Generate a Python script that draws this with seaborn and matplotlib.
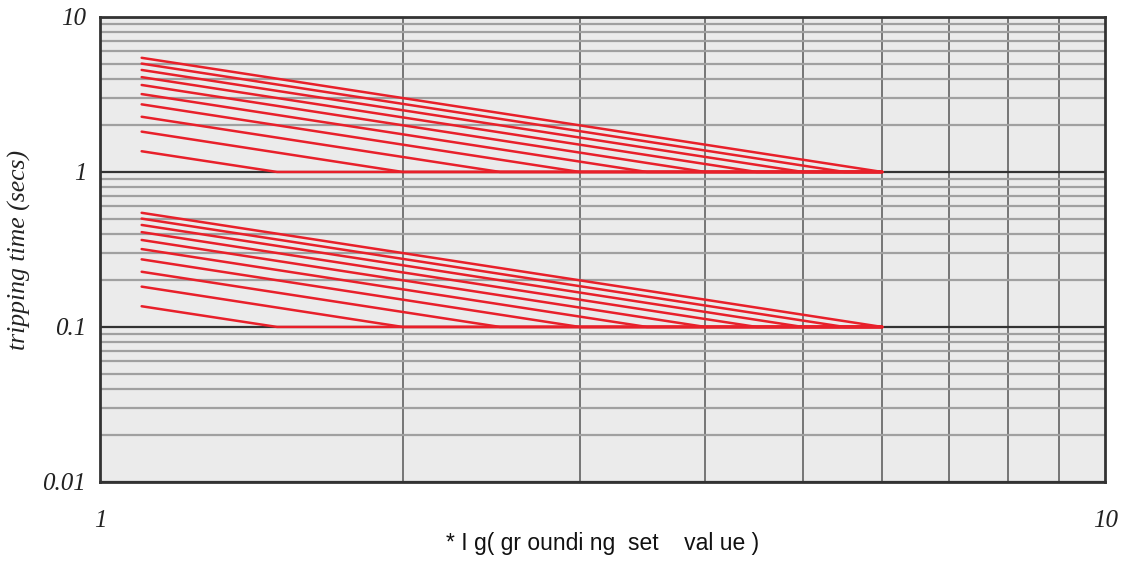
import numpy as np
import pandas as pd
import matplotlib
matplotlib.use("Agg")
import matplotlib.pyplot as plt
import seaborn as sns
from matplotlib.ticker import FixedLocator, NullFormatter

sns.set_theme(style="white")

# curve settings (multiples of the grounding set value)
k_values = [1.5, 2.0, 2.5, 3.0, 3.5, 4.0, 4.5, 5.0, 5.5, 6.0]
start_current = 1.1
end_current = 6.0
# tripping time at the start current, upper family (secs)
start_times_upper = [1.36, 1.82, 2.27, 2.73, 3.18, 3.64, 4.09, 4.55, 5.00, 5.45]
# lower family (secs)
start_times_lower = [0.136, 0.182, 0.227, 0.273, 0.318, 0.364, 0.409, 0.455, 0.500, 0.545]
flat_upper = 1.0
flat_lower = 0.1

rows = []
for i, k in enumerate(k_values):
    for fam, t0, tf in [("upper", start_times_upper[i], flat_upper),
                        ("lower", start_times_lower[i], flat_lower)]:
        cid = f"{fam}_{k}"
        rows.append({"curve": cid, "I": start_current, "t": t0})
        rows.append({"curve": cid, "I": k, "t": tf})
        rows.append({"curve": cid, "I": end_current, "t": tf})
df = pd.DataFrame(rows)

fig = plt.figure(figsize=(11.37, 5.65), dpi=100)
ax = fig.add_axes([0.088, 0.147, 0.884, 0.823])
ax.set_facecolor("#ebebeb")
ax.set_xscale("log")
ax.set_yscale("log")
ax.set_xlim(1, 10)
ax.set_ylim(0.01, 10)

# grid
ax.yaxis.set_major_locator(FixedLocator([0.01, 0.1, 1, 10]))
ax.yaxis.set_minor_locator(FixedLocator([m * d for d in [0.01, 0.1, 1] for m in range(2, 10)]))
ax.xaxis.set_major_locator(FixedLocator([1, 10]))
ax.xaxis.set_minor_locator(FixedLocator(list(range(2, 10))))
ax.xaxis.set_minor_formatter(NullFormatter())
ax.yaxis.set_minor_formatter(NullFormatter())
ax.grid(which="minor", axis="y", color="#a0a0a0", lw=1.6)
ax.grid(which="major", axis="y", color="#333333", lw=1.6)
ax.grid(which="minor", axis="x", color="#555555", lw=1.1)
ax.set_axisbelow(True)

sns.lineplot(data=df, x="I", y="t", units="curve", estimator=None, sort=False,
             color="#e8202a", lw=1.8, ax=ax, legend=False, zorder=3)

for s in ax.spines.values():
    s.set_color("#333333")
    s.set_linewidth(2)

ax.tick_params(which="both", length=0)
ax.tick_params(axis="x", pad=20)
ax.tick_params(axis="y", pad=10)
ax.set_xticklabels(["1", "10"])
ax.set_yticklabels(["0.01", "0.1", "1", "10"])
for lab in ax.get_xticklabels() + ax.get_yticklabels():
    lab.set_family(["Liberation Serif", "DejaVu Serif"])
    lab.set_style("italic")
    lab.set_fontsize(18)
    lab.set_color("#222222")

ax.set_xlabel("* I g( gr oundi ng  set    val ue )", fontsize=16.5,
              family=["Liberation Sans", "DejaVu Sans"], color="#111111", labelpad=0)
ax.set_ylabel("tripping time (secs)", fontsize=18.5, style="italic",
              family=["Liberation Serif", "DejaVu Serif"], color="#222222", labelpad=8)

fig.savefig("out.png", dpi=100)
